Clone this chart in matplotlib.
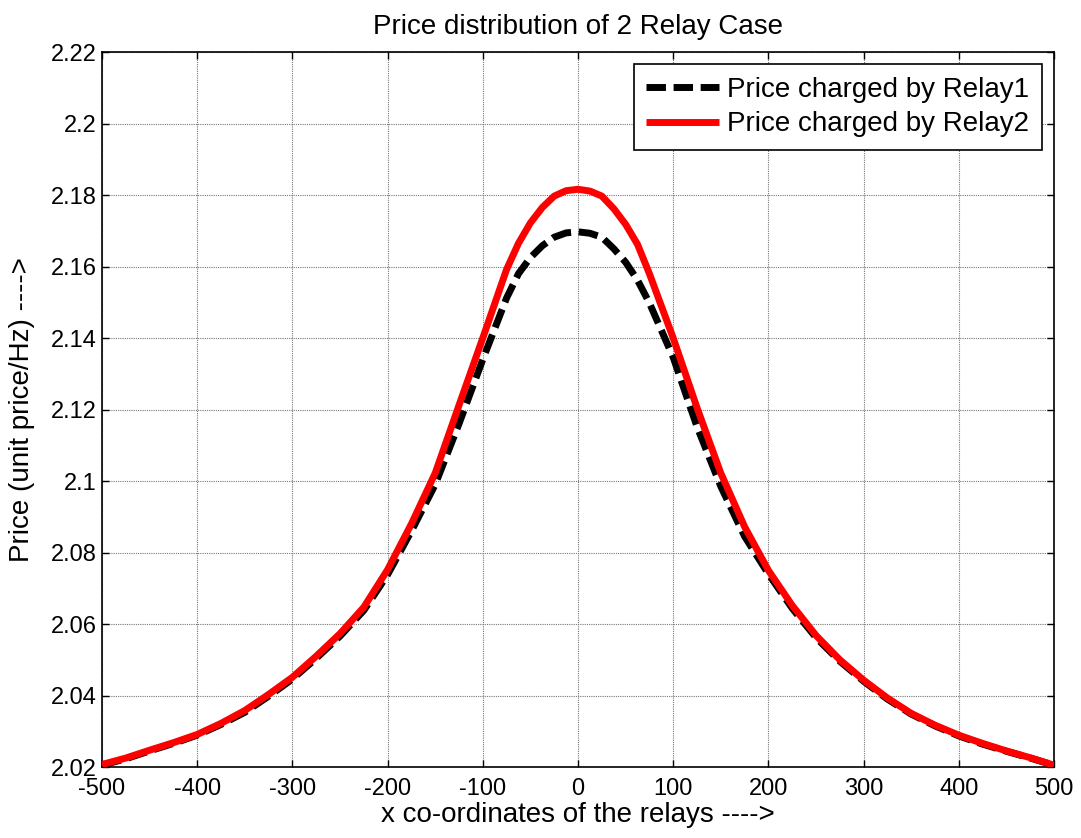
import matplotlib
matplotlib.use("Agg")
import matplotlib.pyplot as plt

plt.rcParams['font.family'] = ['Liberation Sans', 'DejaVu Sans']
plt.rcParams['axes.unicode_minus'] = False

x_coords = [-500, -475, -450, -425, -400, -375, -350, -325, -300, -275, -250, -225,
            -200, -175, -150, -125, -100, -75, -62.5, -50, -37.5, -25, -12.5, 0,
            12.5, 25, 37.5, 50, 62.5, 75, 100, 125,
            150, 175, 200, 225, 250, 275, 300, 325, 350, 375, 400, 425, 450, 475, 500]

price_relay1 = [2.0205, 2.0223, 2.0245, 2.0266, 2.0289, 2.0319, 2.0353, 2.0398, 2.0446,
                2.0504, 2.0566, 2.0638, 2.0738, 2.0860, 2.0990, 2.1160, 2.1340, 2.1512,
                2.1580, 2.1625, 2.1658, 2.1682, 2.1694, 2.1697,
                2.1693, 2.1682, 2.1650, 2.1612, 2.1562, 2.1498, 2.1346, 2.1152,
                2.0985, 2.0845, 2.0740, 2.0644, 2.0562, 2.0496, 2.0440, 2.0390, 2.0348,
                2.0315, 2.0287, 2.0264, 2.0244, 2.0225, 2.0205]

price_relay2 = [2.0207, 2.0225, 2.0247, 2.0268, 2.0291, 2.0322, 2.0358, 2.0403, 2.0451,
                2.0510, 2.0573, 2.0647, 2.0752, 2.0880, 2.1022, 2.1212, 2.1400, 2.1592,
                2.1665, 2.1722, 2.1765, 2.1797, 2.1812, 2.1816,
                2.1811, 2.1797, 2.1762, 2.1718, 2.1662, 2.1580, 2.1400, 2.1205,
                2.1022, 2.0872, 2.0750, 2.0652, 2.0568, 2.0500, 2.0443, 2.0393, 2.0350,
                2.0317, 2.0289, 2.0266, 2.0245, 2.0226, 2.0205]

x_ticks = [-500, -400, -300, -200, -100, 0, 100, 200, 300, 400, 500]
y_ticks = [2.02, 2.04, 2.06, 2.08, 2.1, 2.12, 2.14, 2.16, 2.18, 2.2, 2.22]
y_tick_labels = ['2.02', '2.04', '2.06', '2.08', '2.1', '2.12', '2.14', '2.16', '2.18', '2.2', '2.22']

fig = plt.figure(figsize=(10.81, 8.38), dpi=100)
ax = fig.add_axes([102/1081, 1 - 767/838, (1054 - 102)/1081, (767 - 52)/838])

ax.plot(x_coords, price_relay1, color='black', lw=5, linestyle=(0, (2.8, 1.1)),
        label='Price charged by Relay1', zorder=3)
ax.plot(x_coords, price_relay2, color='red', lw=5, solid_capstyle='butt',
        solid_joinstyle='round', label='Price charged by Relay2', zorder=4)

ax.set_xlim(-500, 500)
ax.set_ylim(2.02, 2.22)
ax.set_xticks(x_ticks)
ax.set_xticklabels([str(v) for v in x_ticks])
ax.set_yticks(y_ticks)
ax.set_yticklabels(y_tick_labels)
ax.tick_params(direction='in', top=True, right=True, length=5, width=1,
               labelsize=17, pad=4)
ax.tick_params(axis='x', pad=8)
ax.grid(True, color='#777777', linestyle=(0, (1, 1)), linewidth=0.8)
for s in ax.spines.values():
    s.set_linewidth(1.2)

ax.set_title('Price distribution of 2 Relay Case', fontsize=20, pad=13)
ax.set_xlabel('x co-ordinates of the relays ---->', fontsize=20, labelpad=1)
ax.set_ylabel('Price (unit price/Hz) ---->', fontsize=20, labelpad=11)

leg = ax.legend(loc='upper right', fontsize=20, frameon=True, fancybox=False,
                edgecolor='black', framealpha=1, borderpad=0.45, handlelength=2.6,
                handletextpad=0.3, labelspacing=0.3, borderaxespad=0.45)
leg.get_frame().set_linewidth(1.2)

fig.savefig('out.png', dpi=100)
